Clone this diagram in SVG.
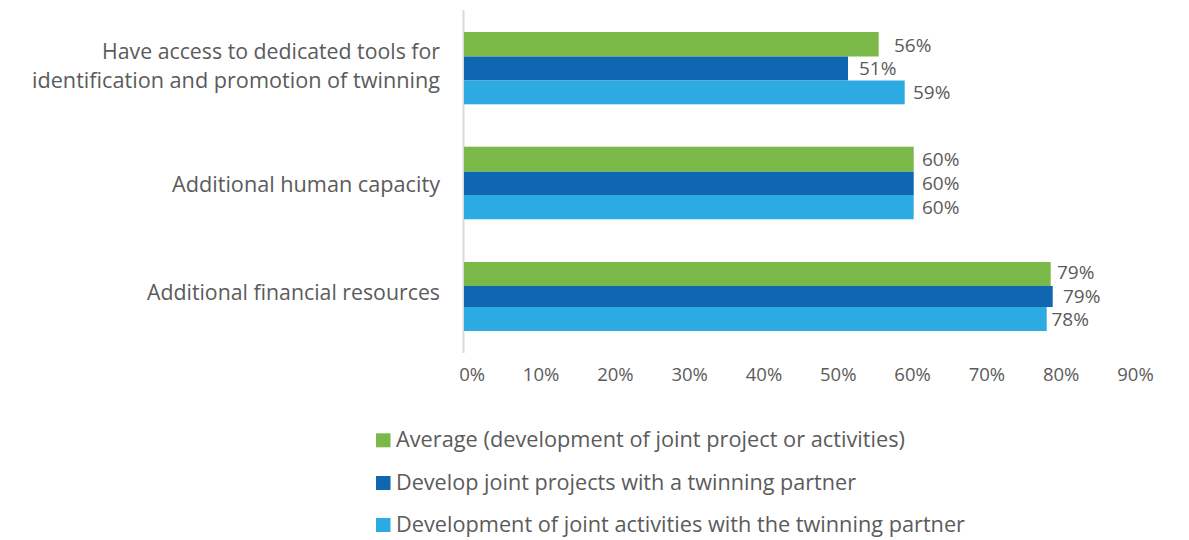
<svg xmlns="http://www.w3.org/2000/svg" width="1189" height="540" viewBox="0 0 1189 540">
<style>
text{font-family:"Open Sans","Liberation Sans",sans-serif;fill:#5b5b5b}
.cat{font-size:21px;text-anchor:end}
.val{font-size:19px}
.tick{font-size:18.5px;text-anchor:end}
.leg{font-size:21px}
.g{fill:#7ab948}
.d{fill:#0e67b0}
.l{fill:#2eaae2}
</style>
<rect width="1189" height="540" fill="#ffffff"/>
<g id="axis">
<line x1="463.5" y1="10" x2="463.5" y2="353" stroke="#d9d9d9" stroke-width="2"/>
<text class="tick" x="485" y="381">0%</text>
<text class="tick" x="559.3" y="381">10%</text>
<text class="tick" x="633.6" y="381">20%</text>
<text class="tick" x="707.9" y="381">30%</text>
<text class="tick" x="782.2" y="381">40%</text>
<text class="tick" x="856.5" y="381">50%</text>
<text class="tick" x="930.8" y="381">60%</text>
<text class="tick" x="1005.1" y="381">70%</text>
<text class="tick" x="1079.4" y="381">80%</text>
<text class="tick" x="1153.7" y="381">90%</text>
</g>
<g id="group-tools">
<text class="cat" x="440" y="59" textLength="338" lengthAdjust="spacingAndGlyphs">Have access to dedicated tools for</text>
<text class="cat" x="440" y="88" textLength="408" lengthAdjust="spacingAndGlyphs">identification and promotion of twinning</text>
<rect class="g" x="464" y="32" width="414.7" height="24.5"/>
<rect class="d" x="464" y="56.5" width="384" height="24"/>
<rect class="l" x="464" y="80.5" width="440.7" height="23.8"/>
<text class="val" x="894" y="52">56%</text>
<text class="val" x="859" y="75">51%</text>
<text class="val" x="913" y="98.5">59%</text>
</g>
<g id="group-human">
<text class="cat" x="440" y="191.5" textLength="268" lengthAdjust="spacingAndGlyphs">Additional human capacity</text>
<rect class="g" x="464" y="146.7" width="449.7" height="25"/>
<rect class="d" x="464" y="171.7" width="449.7" height="23.3"/>
<rect class="l" x="464" y="195" width="449.7" height="24.3"/>
<text class="val" x="922" y="166">60%</text>
<text class="val" x="922" y="189.5">60%</text>
<text class="val" x="922" y="213.5">60%</text>
</g>
<g id="group-financial">
<text class="cat" x="440" y="300" textLength="293" lengthAdjust="spacingAndGlyphs">Additional financial resources</text>
<rect class="g" x="464" y="262" width="586.7" height="24"/>
<rect class="d" x="464" y="286" width="588.7" height="21"/>
<rect class="l" x="464" y="307" width="582.7" height="24"/>
<text class="val" x="1057" y="279">79%</text>
<text class="val" x="1063" y="302.5">79%</text>
<text class="val" x="1051.5" y="326">78%</text>
</g>
<g id="legend">
<rect class="g" x="376" y="433.3" width="14.5" height="14"/>
<text class="leg" x="396" y="447.3" textLength="509" lengthAdjust="spacingAndGlyphs">Average (development of joint project or activities)</text>
<rect class="d" x="376" y="476" width="14.5" height="14"/>
<text class="leg" x="396" y="490" textLength="460" lengthAdjust="spacingAndGlyphs">Develop joint projects with a twinning partner</text>
<rect class="l" x="376" y="518" width="14.5" height="14"/>
<text class="leg" x="396" y="532" textLength="569" lengthAdjust="spacingAndGlyphs">Development of joint activities with the twinning partner</text>
</g>
</svg>
